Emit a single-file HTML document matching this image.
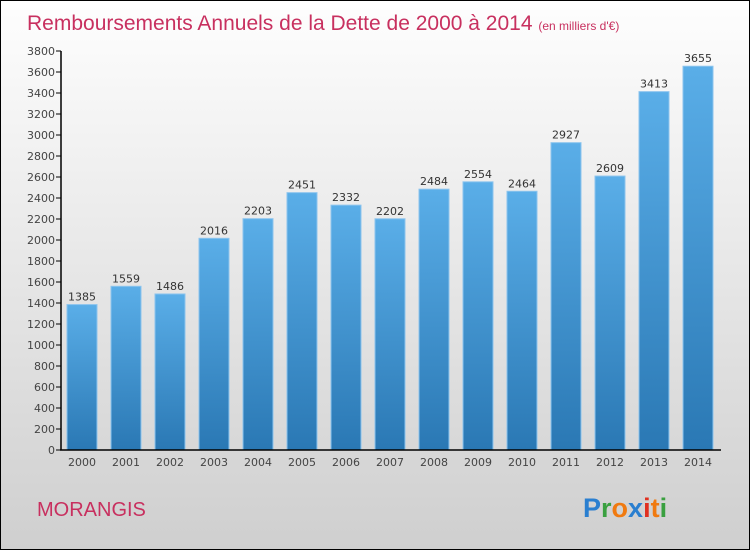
<!DOCTYPE html>
<html><head><meta charset="utf-8"><style>
body{margin:0}
#wrap{width:750px;height:550px;position:relative;box-sizing:border-box;border:1px solid #000;background:linear-gradient(#fefefe,#cfcfcf);font-family:"DejaVu Sans","Liberation Sans",sans-serif;overflow:hidden}
</style></head><body>
<div id="wrap">
<svg id="chart" width="748" height="548">
<defs><linearGradient id="bg" x1="0" y1="0" x2="0" y2="1"><stop offset="0" stop-color="#5aaee8"/><stop offset="1" stop-color="#2a78b4"/></linearGradient></defs>
<text x="26" y="29" font-size="21" fill="#c8305f" font-family="Liberation Sans, sans-serif">Remboursements Annuels de la Dette de 2000 à 2014 <tspan font-size="12">(en milliers d'€)</tspan></text>
<text x="36" y="515" font-size="20" fill="#c8305f" font-family="Liberation Sans, sans-serif">MORANGIS</text>
<g font-size="27" font-weight="bold" font-family="Liberation Sans, sans-serif"><text x="582" y="516"><tspan fill="#2a7fd0">P</tspan><tspan fill="#3aa040">r</tspan><tspan fill="#f07a10">o</tspan><tspan fill="#2a7fd0">x</tspan><tspan fill="#e03020">i</tspan><tspan fill="#f07a10">t</tspan><tspan fill="#3aa040">i</tspan></text></g>
<g id="plot"></g>
</svg>
</div>
<script>
const categories=["2000","2001","2002","2003","2004","2005","2006","2007","2008","2009","2010","2011","2012","2013","2014"];
const values=[1385,1559,1486,2016,2203,2451,2332,2202,2484,2554,2464,2927,2609,3413,3655];
const yTicks=[0,200,400,600,800,1000,1200,1400,1600,1800,2000,2200,2400,2600,2800,3000,3200,3400,3600,3800];
const ns="http://www.w3.org/2000/svg";
const g=document.getElementById('plot');
const ox=-1,oy=-1;
const y=v=>oy+450-v*(399/3800);
const x=i=>ox+67+i*44;
function mk(t,a){const e=document.createElementNS(ns,t);for(const k in a)e.setAttribute(k,a[k]);g.appendChild(e);return e;}
values.forEach((v,i)=>{
 const r=mk('rect',{x:x(i),y:y(v),width:30,height:y(0)-y(v),fill:'url(#bg)',stroke:'#8cc4ee','stroke-width':1});
 
 
 const t=mk('text',{x:x(i)+15,y:y(v)-4,'text-anchor':'middle','font-size':11,fill:'#333'});
 t.textContent=v;
 
 
 const c=mk('text',{x:x(i)+15,y:oy+466,'text-anchor':'middle','font-size':11,fill:'#444'});
 c.textContent=categories[i];
 
 
});
yTicks.forEach(v=>{
 mk('line',{x1:ox+56,x2:ox+61,y1:y(v),y2:y(v),stroke:'#000'});
 const t=mk('text',{x:ox+55,y:y(v)+4,'text-anchor':'end','font-size':11,fill:'#444'});
 t.textContent=v;
 
 
});
const ya=mk('line',{x1:ox+61,x2:ox+61,y1:y(3800),y2:y(0),stroke:'#000','stroke-width':1.5});


const xa=mk('line',{x1:ox+60,x2:ox+721,y1:y(0),y2:y(0),stroke:'#000','stroke-width':1.5});


</script>
</body></html>
